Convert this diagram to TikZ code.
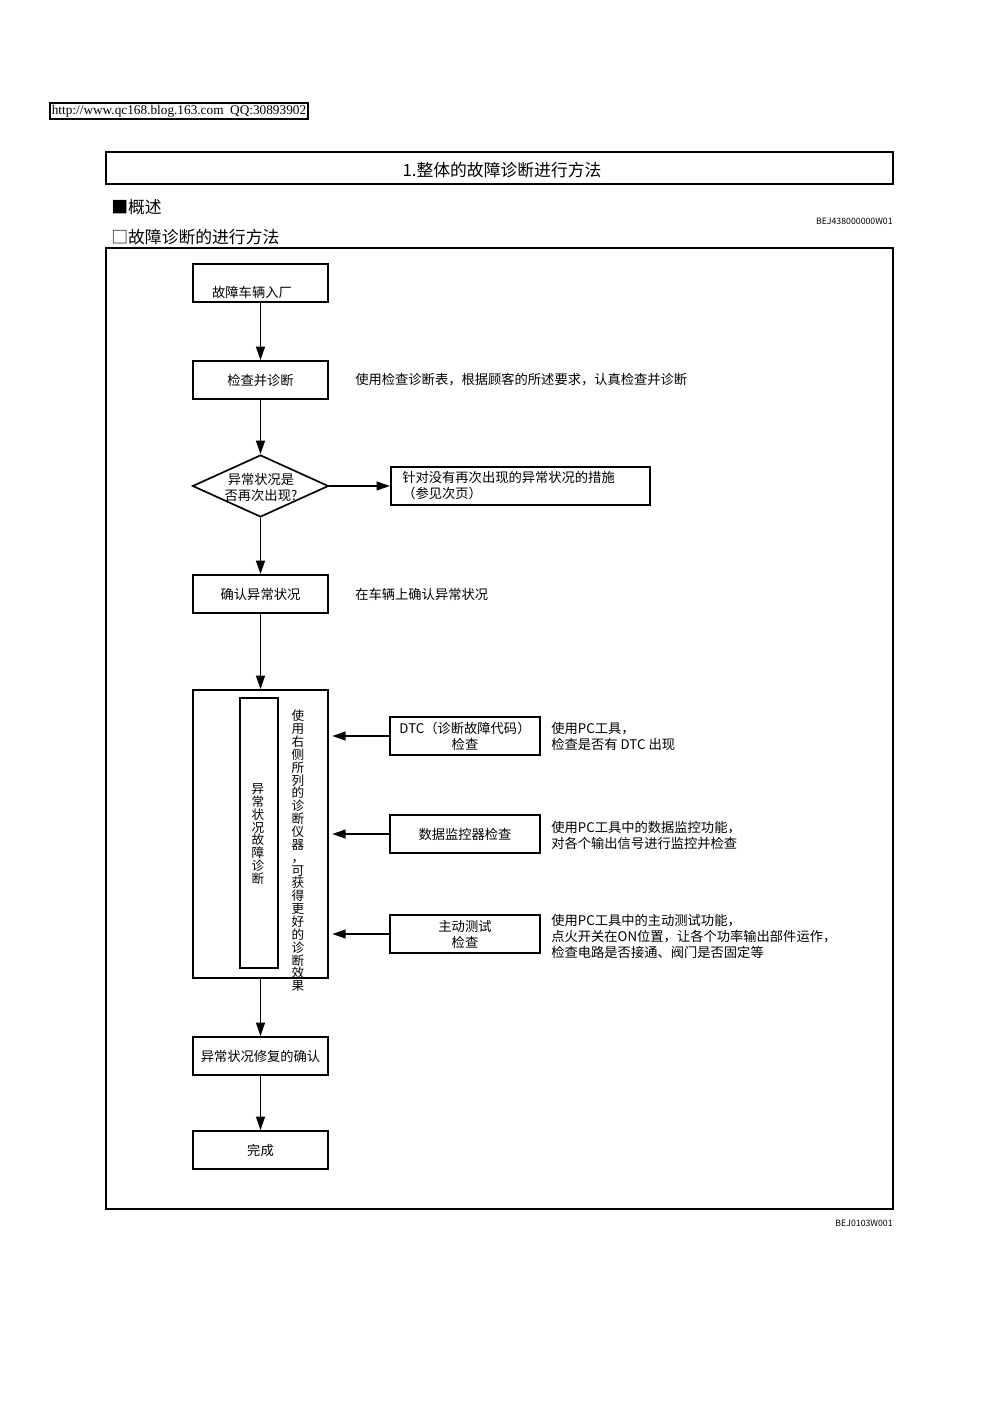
\documentclass[tikz,border=0pt]{standalone}
\usepackage{fontspec}
\setmainfont{Liberation Serif}
\newfontfamily\cjk{Noto Sans CJK SC}
\usetikzlibrary{arrows.meta,shapes.geometric}
\def\pxu{0.595pt}
\tikzset{
  bx/.style={draw, line width=1pt, minimum width=135*\pxu, minimum height=38*\pxu, inner sep=0pt},
  rbx/.style={draw, line width=1pt, minimum width=150*\pxu, minimum height=38*\pxu, inner sep=0pt, align=center, font=\cjk\fontsize{7.9}{9.5}\selectfont},
  txt/.style={inner sep=0pt, font=\cjk\fontsize{7.9}{9.5}\selectfont},
  ltxt/.style={txt, anchor=west, align=left},
  vtxt/.style={inner sep=0pt, align=center, font=\cjk\fontsize{7.5}{7.65}\selectfont},
  code/.style={inner sep=0pt, anchor=east, font=\cjk\fontsize{5.2}{5.2}\selectfont},
  arr/.style={line width=1.1pt, -{Triangle[length=8pt,width=5.2pt]}},
}
\begin{document}
\begin{tikzpicture}[x=0.595pt,y=-0.595pt]
\useasboundingbox[fill=white] (0,0) rectangle (1000,1415);
% header
\node[draw, line width=1.1pt, minimum width=258*\pxu, minimum height=16*\pxu, inner sep=0pt, font=\fontsize{7.9}{9}\selectfont] (hdr) at (179,111) {http://www.qc168.blog.163.com\ \ QQ:30893902};
% title
\node[draw, line width=1.5pt, minimum width=787*\pxu, minimum height=32*\pxu, inner sep=0pt] (title) at (499.5,168) {};
\node[inner sep=0pt, font=\cjk\fontsize{10}{11}\selectfont] (titletxt) at (502,170) {1.整体的故障诊断进行方法};
\node[inner sep=0pt, anchor=west, font=\cjk\fontsize{10}{11}\selectfont] (s1) at (111,207) {■概述};
\node[code] (c1) at (893,221) {BEJ438000000W01};
\node[inner sep=0pt, anchor=west, font=\cjk\fontsize{10}{11}\selectfont] (s2) at (111,237) {□故障诊断的进行方法};
% frame
\draw[line width=1.1pt] (106,248) rectangle (893,1209);
% flow
\node[bx] (b1) at (260.5,283) {};
\node[txt] (t1) at (252,292) {故障车辆入厂};
\node[bx, txt, draw, line width=1pt, minimum width=135*\pxu, minimum height=38*\pxu] (b2) at (260.5,380) {检查并诊断};
\node[ltxt] (n2) at (355,380) {使用检查诊断表，根据顾客的所述要求，认真检查并诊断};
\node[diamond, draw, line width=1pt, minimum width=136*\pxu, minimum height=62*\pxu, inner sep=0pt] (d) at (260.5,486) {};
\node[txt, align=center] (dt) at (261,487) {异常状况是\\否再次出现?};
\node[draw, line width=1.2pt, minimum width=259*\pxu, minimum height=38*\pxu, inner sep=0pt] (b4) at (520.5,486) {};
\node[ltxt] (t4) at (402,486) {针对没有再次出现的异常状况的措施\\（参见次页）};
\node[bx, txt, draw, line width=1pt, minimum width=135*\pxu, minimum height=38*\pxu] (b3) at (260.5,594) {确认异常状况};
\node[ltxt] (n3) at (355,594) {在车辆上确认异常状况};
% big box
\node[draw, line width=1pt, minimum width=135*\pxu, minimum height=288*\pxu, inner sep=0pt] (bb) at (260.5,834) {};
\node[draw, line width=1.2pt, minimum width=38*\pxu, minimum height=270*\pxu, inner sep=0pt] (ib) at (259,833) {};
\node[vtxt] (iv) at (258,834) {异\\常\\状\\况\\故\\障\\诊\\断};
\node[vtxt] (ov) at (298,851) {使\\用\\右\\侧\\所\\列\\的\\诊\\断\\仪\\器\\，\\可\\获\\得\\更\\好\\的\\诊\\断\\效\\果};
% right boxes
\node[rbx] (r1) at (465,736) {DTC（诊断故障代码）\\检查};
\node[rbx] (r2) at (465,834) {数据监控器检查};
\node[rbx] (r3) at (465,934) {主动测试\\检查};
\node[ltxt] (n4) at (551,736) {使用PC工具，\\检查是否有 DTC 出现};
\node[ltxt] (n5) at (551,835) {使用PC工具中的数据监控功能，\\对各个输出信号进行监控并检查};
\node[ltxt] (n6) at (551,936) {使用PC工具中的主动测试功能，\\点火开关在ON位置，让各个功率输出部件运作，\\检查电路是否接通、阀门是否固定等};
% bottom
\node[bx, txt, draw, line width=1pt, minimum width=135*\pxu, minimum height=38*\pxu] (b5) at (260.5,1056) {异常状况修复的确认};
\node[bx, txt, draw, line width=1pt, minimum width=135*\pxu, minimum height=38*\pxu] (b6) at (260.5,1150) {完成};
\node[code] (c2) at (893,1223) {BEJ0103W001};
% arrows
\draw[arr] (b1.south) -- (b2.north);
\draw[arr] (b2.south) -- (d.north);
\draw[arr] (d.east) -- (b4.west);
\draw[arr] (d.south) -- (b3.north);
\draw[arr] (b3.south) -- (bb.north);
\draw[arr] (r1.west) -- ([xshift=2pt]r1.west -| bb.east);
\draw[arr] (r2.west) -- ([xshift=2pt]r2.west -| bb.east);
\draw[arr] (r3.west) -- ([xshift=2pt]r3.west -| bb.east);
\draw[arr] (bb.south) -- (b5.north);
\draw[arr] (b5.south) -- (b6.north);
\end{tikzpicture}
\end{document}
